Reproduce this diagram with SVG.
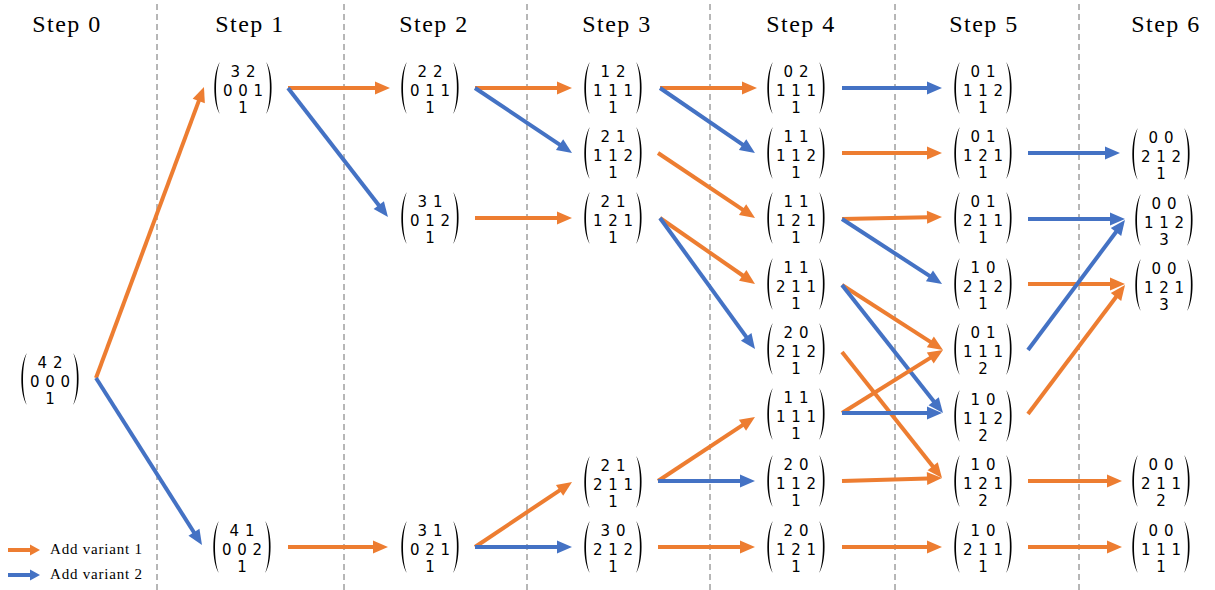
<svg xmlns="http://www.w3.org/2000/svg" xmlns:xlink="http://www.w3.org/1999/xlink" width="1215" height="590" viewBox="0 0 1215 590">
<style>
.h{font-family:"Liberation Serif","DejaVu Serif",serif;font-size:24px;letter-spacing:1.5px;text-anchor:middle;fill:#000}
.m{font-family:"DejaVu Sans","Liberation Sans",sans-serif;font-size:15px;word-spacing:1px;text-anchor:middle;fill:#000}
.lg{font-family:"Liberation Serif","DejaVu Serif",serif;font-size:15px;letter-spacing:0.8px;fill:#000}
.sep{stroke:#6e6e6e;stroke-width:1;stroke-dasharray:6,4}
.o{stroke:#ED7D31;stroke-width:4;fill:none;marker-end:url(#ao)}
.b{stroke:#4472C4;stroke-width:4;fill:none;marker-end:url(#ab)}
.lo{stroke:#ED7D31;stroke-width:4;marker-end:url(#lao)}
.lb{stroke:#4472C4;stroke-width:4;marker-end:url(#lab)}
</style>
<defs>
<marker id="ao" markerUnits="userSpaceOnUse" markerWidth="16" markerHeight="14" refX="1" refY="6.5" orient="auto" overflow="visible"><path d="M0,0 L15,6.5 L0,13 Z" fill="#ED7D31"/></marker>
<marker id="ab" markerUnits="userSpaceOnUse" markerWidth="16" markerHeight="14" refX="1" refY="6.5" orient="auto" overflow="visible"><path d="M0,0 L15,6.5 L0,13 Z" fill="#4472C4"/></marker>
<marker id="lao" markerUnits="userSpaceOnUse" markerWidth="11" markerHeight="11" refX="1" refY="5.5" orient="auto" overflow="visible"><path d="M0,0 L10,5.5 L0,11 Z" fill="#ED7D31"/></marker>
<marker id="lab" markerUnits="userSpaceOnUse" markerWidth="11" markerHeight="11" refX="1" refY="5.5" orient="auto" overflow="visible"><path d="M0,0 L10,5.5 L0,11 Z" fill="#4472C4"/></marker>
<path id="lp" d="M0,-26 C-7.5,-16 -7.5,16 0,26 C-5.3,16 -5.3,-16 0,-26 Z" fill="#000"/>
<path id="rp" d="M0,-26 C7.5,-16 7.5,16 0,26 C5.3,16 5.3,-16 0,-26 Z" fill="#000"/>
</defs>
<rect width="1215" height="590" fill="#fff"/>
<g id="separators">
<line class="sep" x1="157" y1="4" x2="157" y2="590"/>
<line class="sep" x1="344" y1="4" x2="344" y2="590"/>
<line class="sep" x1="527" y1="4" x2="527" y2="590"/>
<line class="sep" x1="710" y1="4" x2="710" y2="590"/>
<line class="sep" x1="895" y1="4" x2="895" y2="590"/>
<line class="sep" x1="1079" y1="4" x2="1079" y2="590"/>
</g>
<g id="headers">
<text class="h" x="67" y="32">Step 0</text>
<text class="h" x="250" y="32">Step 1</text>
<text class="h" x="434" y="32">Step 2</text>
<text class="h" x="617" y="32">Step 3</text>
<text class="h" x="801" y="32">Step 4</text>
<text class="h" x="984" y="32">Step 5</text>
<text class="h" x="1166" y="32">Step 6</text>
</g>
<g id="connectors">
<line class="o" x1="96" y1="378" x2="199.1" y2="100.1"/>
<line class="b" x1="96" y1="378" x2="194.5" y2="533.2"/>
<line class="o" x1="288" y1="88" x2="376" y2="88"/>
<line class="b" x1="288" y1="88" x2="379.4" y2="205.9"/>
<line class="o" x1="288" y1="547" x2="374" y2="547"/>
<line class="o" x1="475" y1="88" x2="558" y2="88"/>
<line class="b" x1="475" y1="88" x2="560.4" y2="145.2"/>
<line class="o" x1="475" y1="218" x2="558" y2="218"/>
<line class="o" x1="475" y1="547" x2="560.4" y2="489.8"/>
<line class="b" x1="475" y1="547" x2="558" y2="547"/>
<line class="o" x1="660" y1="88" x2="743" y2="88"/>
<line class="b" x1="660" y1="88" x2="743.4" y2="145.1"/>
<line class="o" x1="658" y1="153" x2="743.4" y2="210.2"/>
<line class="o" x1="660" y1="218" x2="743.5" y2="276"/>
<line class="b" x1="660" y1="218" x2="746.8" y2="337.7"/>
<line class="o" x1="658" y1="481" x2="743.3" y2="424.7"/>
<line class="b" x1="658" y1="481" x2="741" y2="481"/>
<line class="o" x1="658" y1="547" x2="741" y2="547"/>
<line class="b" x1="842" y1="88" x2="928" y2="88"/>
<line class="o" x1="842" y1="153" x2="928" y2="153"/>
<line class="o" x1="842" y1="219" x2="928" y2="217.3"/>
<line class="b" x1="842" y1="219" x2="930.3" y2="276.4"/>
<line class="o" x1="842" y1="285" x2="931.2" y2="342.4"/>
<line class="b" x1="842" y1="285" x2="934.3" y2="402"/>
<line class="o" x1="842" y1="352" x2="933.3" y2="467"/>
<line class="o" x1="842" y1="413" x2="931.1" y2="357.4"/>
<line class="b" x1="842" y1="413" x2="928" y2="413"/>
<line class="o" x1="842" y1="481" x2="928" y2="478.4"/>
<line class="o" x1="842" y1="547" x2="928" y2="547"/>
<line class="b" x1="1028" y1="153" x2="1106" y2="153"/>
<line class="b" x1="1028" y1="219" x2="1111" y2="219"/>
<line class="o" x1="1028" y1="284" x2="1111" y2="284"/>
<line class="b" x1="1028" y1="350" x2="1116.6" y2="231.2"/>
<line class="o" x1="1028" y1="414" x2="1116.6" y2="296.2"/>
<line class="o" x1="1028" y1="481" x2="1108" y2="481"/>
<line class="o" x1="1028" y1="547" x2="1108" y2="547"/>
</g>
<g id="n0" transform="translate(50,379)"><use href="#lp" x="-23"/><use href="#rp" x="23"/><text class="m" y="-11">4 2</text><text class="m" y="8">0 0 0</text><text class="m" y="25">1</text></g>
<g id="n1a" transform="translate(243,88)"><use href="#lp" x="-23"/><use href="#rp" x="23"/><text class="m" y="-11">3 2</text><text class="m" y="8">0 0 1</text><text class="m" y="25">1</text></g>
<g id="n1b" transform="translate(242,547)"><use href="#lp" x="-23"/><use href="#rp" x="23"/><text class="m" y="-11">4 1</text><text class="m" y="8">0 0 2</text><text class="m" y="25">1</text></g>
<g id="n2a" transform="translate(430,88)"><use href="#lp" x="-23"/><use href="#rp" x="23"/><text class="m" y="-11">2 2</text><text class="m" y="8">0 1 1</text><text class="m" y="25">1</text></g>
<g id="n2b" transform="translate(430,218)"><use href="#lp" x="-23"/><use href="#rp" x="23"/><text class="m" y="-11">3 1</text><text class="m" y="8">0 1 2</text><text class="m" y="25">1</text></g>
<g id="n2c" transform="translate(430,547)"><use href="#lp" x="-23"/><use href="#rp" x="23"/><text class="m" y="-11">3 1</text><text class="m" y="8">0 2 1</text><text class="m" y="25">1</text></g>
<g id="n3a" transform="translate(613,88)"><use href="#lp" x="-23"/><use href="#rp" x="23"/><text class="m" y="-11">1 2</text><text class="m" y="8">1 1 1</text><text class="m" y="25">1</text></g>
<g id="n3b" transform="translate(613,153)"><use href="#lp" x="-23"/><use href="#rp" x="23"/><text class="m" y="-11">2 1</text><text class="m" y="8">1 1 2</text><text class="m" y="25">1</text></g>
<g id="n3c" transform="translate(613,218)"><use href="#lp" x="-23"/><use href="#rp" x="23"/><text class="m" y="-11">2 1</text><text class="m" y="8">1 2 1</text><text class="m" y="25">1</text></g>
<g id="n3d" transform="translate(613,482)"><use href="#lp" x="-23"/><use href="#rp" x="23"/><text class="m" y="-11">2 1</text><text class="m" y="8">2 1 1</text><text class="m" y="25">1</text></g>
<g id="n3e" transform="translate(613,547)"><use href="#lp" x="-23"/><use href="#rp" x="23"/><text class="m" y="-11">3 0</text><text class="m" y="8">2 1 2</text><text class="m" y="25">1</text></g>
<g id="n4a" transform="translate(796,88)"><use href="#lp" x="-23"/><use href="#rp" x="23"/><text class="m" y="-11">0 2</text><text class="m" y="8">1 1 1</text><text class="m" y="25">1</text></g>
<g id="n4b" transform="translate(796,153)"><use href="#lp" x="-23"/><use href="#rp" x="23"/><text class="m" y="-11">1 1</text><text class="m" y="8">1 1 2</text><text class="m" y="25">1</text></g>
<g id="n4c" transform="translate(796,218)"><use href="#lp" x="-23"/><use href="#rp" x="23"/><text class="m" y="-11">1 1</text><text class="m" y="8">1 2 1</text><text class="m" y="25">1</text></g>
<g id="n4d" transform="translate(796,284)"><use href="#lp" x="-23"/><use href="#rp" x="23"/><text class="m" y="-11">1 1</text><text class="m" y="8">2 1 1</text><text class="m" y="25">1</text></g>
<g id="n4e" transform="translate(796,349)"><use href="#lp" x="-23"/><use href="#rp" x="23"/><text class="m" y="-11">2 0</text><text class="m" y="8">2 1 2</text><text class="m" y="25">1</text></g>
<g id="n4f" transform="translate(796,414)"><use href="#lp" x="-23"/><use href="#rp" x="23"/><text class="m" y="-11">1 1</text><text class="m" y="8">1 1 1</text><text class="m" y="25">1</text></g>
<g id="n4g" transform="translate(796,481)"><use href="#lp" x="-23"/><use href="#rp" x="23"/><text class="m" y="-11">2 0</text><text class="m" y="8">1 1 2</text><text class="m" y="25">1</text></g>
<g id="n4h" transform="translate(796,547)"><use href="#lp" x="-23"/><use href="#rp" x="23"/><text class="m" y="-11">2 0</text><text class="m" y="8">1 2 1</text><text class="m" y="25">1</text></g>
<g id="n5a" transform="translate(983,88)"><use href="#lp" x="-23"/><use href="#rp" x="23"/><text class="m" y="-11">0 1</text><text class="m" y="8">1 1 2</text><text class="m" y="25">1</text></g>
<g id="n5b" transform="translate(983,153)"><use href="#lp" x="-23"/><use href="#rp" x="23"/><text class="m" y="-11">0 1</text><text class="m" y="8">1 2 1</text><text class="m" y="25">1</text></g>
<g id="n5c" transform="translate(983,218)"><use href="#lp" x="-23"/><use href="#rp" x="23"/><text class="m" y="-11">0 1</text><text class="m" y="8">2 1 1</text><text class="m" y="25">1</text></g>
<g id="n5d" transform="translate(983,284)"><use href="#lp" x="-23"/><use href="#rp" x="23"/><text class="m" y="-11">1 0</text><text class="m" y="8">2 1 2</text><text class="m" y="25">1</text></g>
<g id="n5e" transform="translate(983,349)"><use href="#lp" x="-23"/><use href="#rp" x="23"/><text class="m" y="-11">0 1</text><text class="m" y="8">1 1 1</text><text class="m" y="25">2</text></g>
<g id="n5f" transform="translate(983,416)"><use href="#lp" x="-23"/><use href="#rp" x="23"/><text class="m" y="-11">1 0</text><text class="m" y="8">1 1 2</text><text class="m" y="25">2</text></g>
<g id="n5g" transform="translate(983,481)"><use href="#lp" x="-23"/><use href="#rp" x="23"/><text class="m" y="-11">1 0</text><text class="m" y="8">1 2 1</text><text class="m" y="25">2</text></g>
<g id="n5h" transform="translate(983,547)"><use href="#lp" x="-23"/><use href="#rp" x="23"/><text class="m" y="-11">1 0</text><text class="m" y="8">2 1 1</text><text class="m" y="25">1</text></g>
<g id="n6a" transform="translate(1161,154)"><use href="#lp" x="-23"/><use href="#rp" x="23"/><text class="m" y="-11">0 0</text><text class="m" y="8">2 1 2</text><text class="m" y="25">1</text></g>
<g id="n6b" transform="translate(1164,220)"><use href="#lp" x="-23"/><use href="#rp" x="23"/><text class="m" y="-11">0 0</text><text class="m" y="8">1 1 2</text><text class="m" y="25">3</text></g>
<g id="n6c" transform="translate(1164,285)"><use href="#lp" x="-23"/><use href="#rp" x="23"/><text class="m" y="-11">0 0</text><text class="m" y="8">1 2 1</text><text class="m" y="25">3</text></g>
<g id="n6d" transform="translate(1161,481)"><use href="#lp" x="-23"/><use href="#rp" x="23"/><text class="m" y="-11">0 0</text><text class="m" y="8">2 1 1</text><text class="m" y="25">2</text></g>
<g id="n6e" transform="translate(1161,547)"><use href="#lp" x="-23"/><use href="#rp" x="23"/><text class="m" y="-11">0 0</text><text class="m" y="8">1 1 1</text><text class="m" y="25">1</text></g>
<g id="legend">
<line class="lo" x1="8" y1="550" x2="31" y2="550"/>
<line class="lb" x1="8" y1="575" x2="31" y2="575"/>
<text class="lg" x="50" y="554">Add variant 1</text>
<text class="lg" x="50" y="579">Add variant 2</text>
</g>
</svg>
